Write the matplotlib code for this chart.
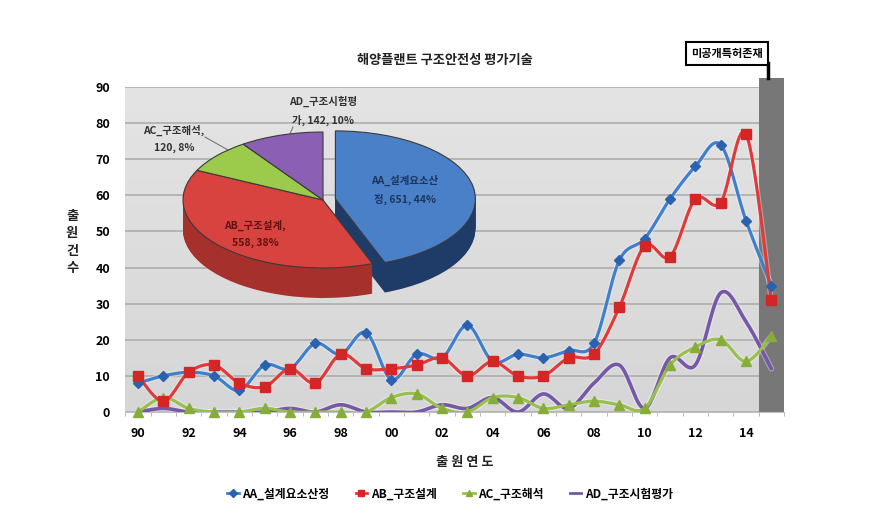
import numpy as np
import matplotlib.pyplot as plt
from matplotlib.lines import Line2D
from matplotlib.patches import Rectangle
from matplotlib.colors import LinearSegmentedColormap

plt.rcParams['font.family'] = ['Noto Sans CJK KR', 'DejaVu Sans']
plt.rcParams['font.weight'] = 'bold'

# ---- data ----
years = ["90", "91", "92", "93", "94", "95", "96", "97", "98", "99",
         "00", "01", "02", "03", "04", "05", "06", "07", "08", "09",
         "10", "11", "12", "13", "14", "15"]
aa = [8, 10, 11, 10, 6, 13, 12, 19, 16, 22, 9, 16, 15, 24, 14, 16, 15, 17, 19, 42,
      48, 59, 68, 74, 53, 35]
ab = [10, 3, 11, 13, 8, 7, 12, 8, 16, 12, 12, 13, 15, 10, 14, 10, 10, 15, 16, 29,
      46, 43, 59, 58, 77, 31]
ac = [0, 4, 1, 0, 0, 1, 0, 0, 0, 0, 4, 5, 1, 0, 4, 4, 1, 2, 3, 2,
      1, 13, 18, 20, 14, 21]
ad = [0, 1, 0, 0, 0, 0, 1, 0, 2, 0, 0, 0, 2, 1, 4, 0, 5, 1, 8, 13,
      1, 15, 13, 33, 25, 12]
series_names = ["AA_설계요소산정", "AB_구조설계", "AC_구조해석", "AD_구조시험평가"]
pie_counts = [651, 558, 120, 142]
pie_text = ["AA_설계요소산\n정, 651, 44%", "AB_구조설계,\n558, 38%",
            "AC_구조해석,\n120, 8%", "AD_구조시험평\n가, 142, 10%"]

W, H = 888, 520


def px(x, y):
    """pixel position (from top-left) -> figure fraction"""
    return x / W, 1 - y / H


def smooth(x, y, n=16):
    # Excel-like smoothed line (Catmull-Rom bezier)
    x = np.asarray(x, float)
    y = np.asarray(y, float)
    P = np.column_stack([x, y])
    Pe = np.vstack([P[0], P, P[-1]])
    t = np.linspace(0, 1, n)[:, None]
    out = []
    for i in range(len(P) - 1):
        p0, p3 = P[i], P[i + 1]
        c1 = p0 + (Pe[i + 2] - Pe[i]) / 6
        c2 = p3 - (Pe[i + 3] - Pe[i + 1]) / 6
        seg = ((1 - t) ** 3) * p0 + 3 * ((1 - t) ** 2) * t * c1 + 3 * (1 - t) * t ** 2 * c2 + t ** 3 * p3
        out.append(seg if i == 0 else seg[1:])
    out = np.vstack(out)
    return out[:, 0], out[:, 1]


fig = plt.figure(figsize=(W / 100, H / 100), dpi=100)
fig.patch.set_facecolor('white')

# main line chart
l, b = px(125.4, 412)
r, t = px(784, 87)
ax = fig.add_axes([l, b, r - l, t - b])
x = np.arange(len(years))

cmap = LinearSegmentedColormap.from_list('bg', ['#d6d6d6', '#e4e4e4'])
ax.imshow(np.linspace(0, 1, 100)[:, None], extent=[-0.5, 25.5, 0, 90], origin='lower',
          aspect='auto', cmap=cmap, zorder=0)
ax.set_xlim(-0.5, 25.5)
ax.set_ylim(0, 90)
ax.set_yticks(range(0, 91, 10))
ax.yaxis.grid(True, color='#a9a9a9', lw=1.1, zorder=1)
ax.set_axisbelow(True)

# grey band for the last year (unpublished patents)
ax.add_patch(Rectangle((24.5, 0), 1, 92.5, facecolor='#777777', edgecolor='none',
                       clip_on=False, zorder=2))

colors = {'aa': '#3f7fcc', 'ab': '#e03b3b', 'ac': '#98c04c', 'ad': '#7757a8'}
for vals, c, mk, mc, ms in [(ad, colors['ad'], None, None, 0),
                            (ac, colors['ac'], '^', '#86ad3a', 7),
                            (aa, colors['aa'], 'D', '#2b62b0', 5.5),
                            (ab, colors['ab'], 's', '#d42626', 7)]:
    sx, sy = smooth(x, vals)
    lw = 2.6 if mk is None else 2.3
    ax.plot(sx, sy, color='white', lw=lw + 1.6, alpha=0.35, zorder=3, solid_capstyle='round')
    ax.plot(sx, sy, color=c, lw=lw, zorder=4, solid_capstyle='round')
    if mk:
        ax.plot(x, vals, ls='none', marker=mk, ms=ms, mfc=mc, mec=mc, zorder=5, clip_on=False)

for s in ax.spines.values():
    s.set_visible(False)
ax.spines['bottom'].set_visible(True)
ax.spines['bottom'].set_color('#c0c0c0')
ax.set_xticks(x[::2])
ax.set_xticklabels(years[::2])
ax.set_xticks(np.arange(-0.5, 26, 1), minor=True)
ax.tick_params(axis='x', which='major', length=0, pad=11, labelsize=9)
ax.tick_params(axis='x', which='minor', length=3, color='#b0b0b0')
ax.tick_params(axis='y', length=0, pad=11, labelsize=9)

# 3D-looking pie inset
cx, cy, rx, ry = 323, 200, 140, 68
pl, pb = px(cx - 1.3 * rx, cy + 1.8 * ry)
pr, pt = px(cx + 1.3 * rx, cy - 1.3 * ry)
axp = fig.add_axes([pl, pb, pr - pl, pt - pb], zorder=5)
axp.patch.set_alpha(0)
top_cols = ['#4a80c8', '#d8433f', '#9ccb4c', '#8a5fb4']
side_cols = ['#1f3c68', '#a5302c', '#5c7c22', '#553682']
explode = [0.09, 0, 0, 0]
depth = 30 / ry
nl = 30
for k in range(nl, 0, -1):
    axp.pie(pie_counts, colors=side_cols, startangle=90, counterclock=False, explode=explode,
            center=(0, -depth * k / nl), wedgeprops=dict(linewidth=0))
axp.pie(pie_counts, colors=top_cols, startangle=90, counterclock=False, explode=explode,
        wedgeprops=dict(linewidth=0.8, edgecolor='#3a3a3a'))
axp.set_aspect('auto')
axp.set_xlim(-1.3, 1.3)
axp.set_ylim(-1.8, 1.3)
axp.axis('off')

lab_style = dict(ha='center', va='center', fontsize=7.5, fontweight='bold', linespacing=1.9, zorder=10)
fig.text(*px(405, 190), pie_text[0], color='#1c3560', **lab_style)
fig.text(*px(255, 234), pie_text[1], color='#5e1212', **lab_style)
fig.text(*px(174, 139), pie_text[2], color='#333333', **lab_style)
fig.text(*px(323, 111), pie_text[3], color='#333333', **lab_style)
fig.add_artist(Line2D([205 / W, 228 / W], [1 - 137 / H, 1 - 150 / H], color='#777777', lw=0.8))
fig.add_artist(Line2D([293 / W, 288 / W], [1 - 127 / H, 1 - 138 / H], color='#777777', lw=0.8))

# titles and labels
fig.text(*px(445, 60), "해양플랜트 구조안전성 평가기술", ha='center', va='center', fontsize=9.5,
         fontweight='bold', color='#222222')
fig.text(*px(465, 462), "출 원 연 도", ha='center', va='center', fontsize=9.5, fontweight='bold',
         color='#222222')
fig.text(*px(72, 242), "출\n원\n건\n수", ha='center', va='center', fontsize=9.5,
         fontweight='bold', color='#222222', linespacing=1.3)

# annotation box
fig.text(*px(727, 53), "미공개특허존재", ha='center', va='center', fontsize=8, fontweight='bold',
         bbox=dict(boxstyle='square,pad=0.45', facecolor='white', edgecolor='black', lw=1.5))
fig.add_artist(Line2D([768 / W, 768 / W], [1 - 63 / H, 1 - 78 / H], color='black', lw=2.5))

# legend
handles = [Line2D([], [], color=colors['aa'], marker='D', ms=4, mfc='#2b62b0', mec='#2b62b0', lw=2),
           Line2D([], [], color=colors['ab'], marker='s', ms=5, mfc='#d42626', mec='#d42626', lw=2),
           Line2D([], [], color=colors['ac'], marker='^', ms=5, mfc='#86ad3a', mec='#86ad3a', lw=2),
           Line2D([], [], color=colors['ad'], lw=2)]
fig.legend(handles, series_names, loc='center', bbox_to_anchor=px(450, 494), ncol=4,
           frameon=False, fontsize=8.5, handlelength=1.0, handletextpad=0.3, columnspacing=2.2)

fig.savefig('out.png', dpi=100)
